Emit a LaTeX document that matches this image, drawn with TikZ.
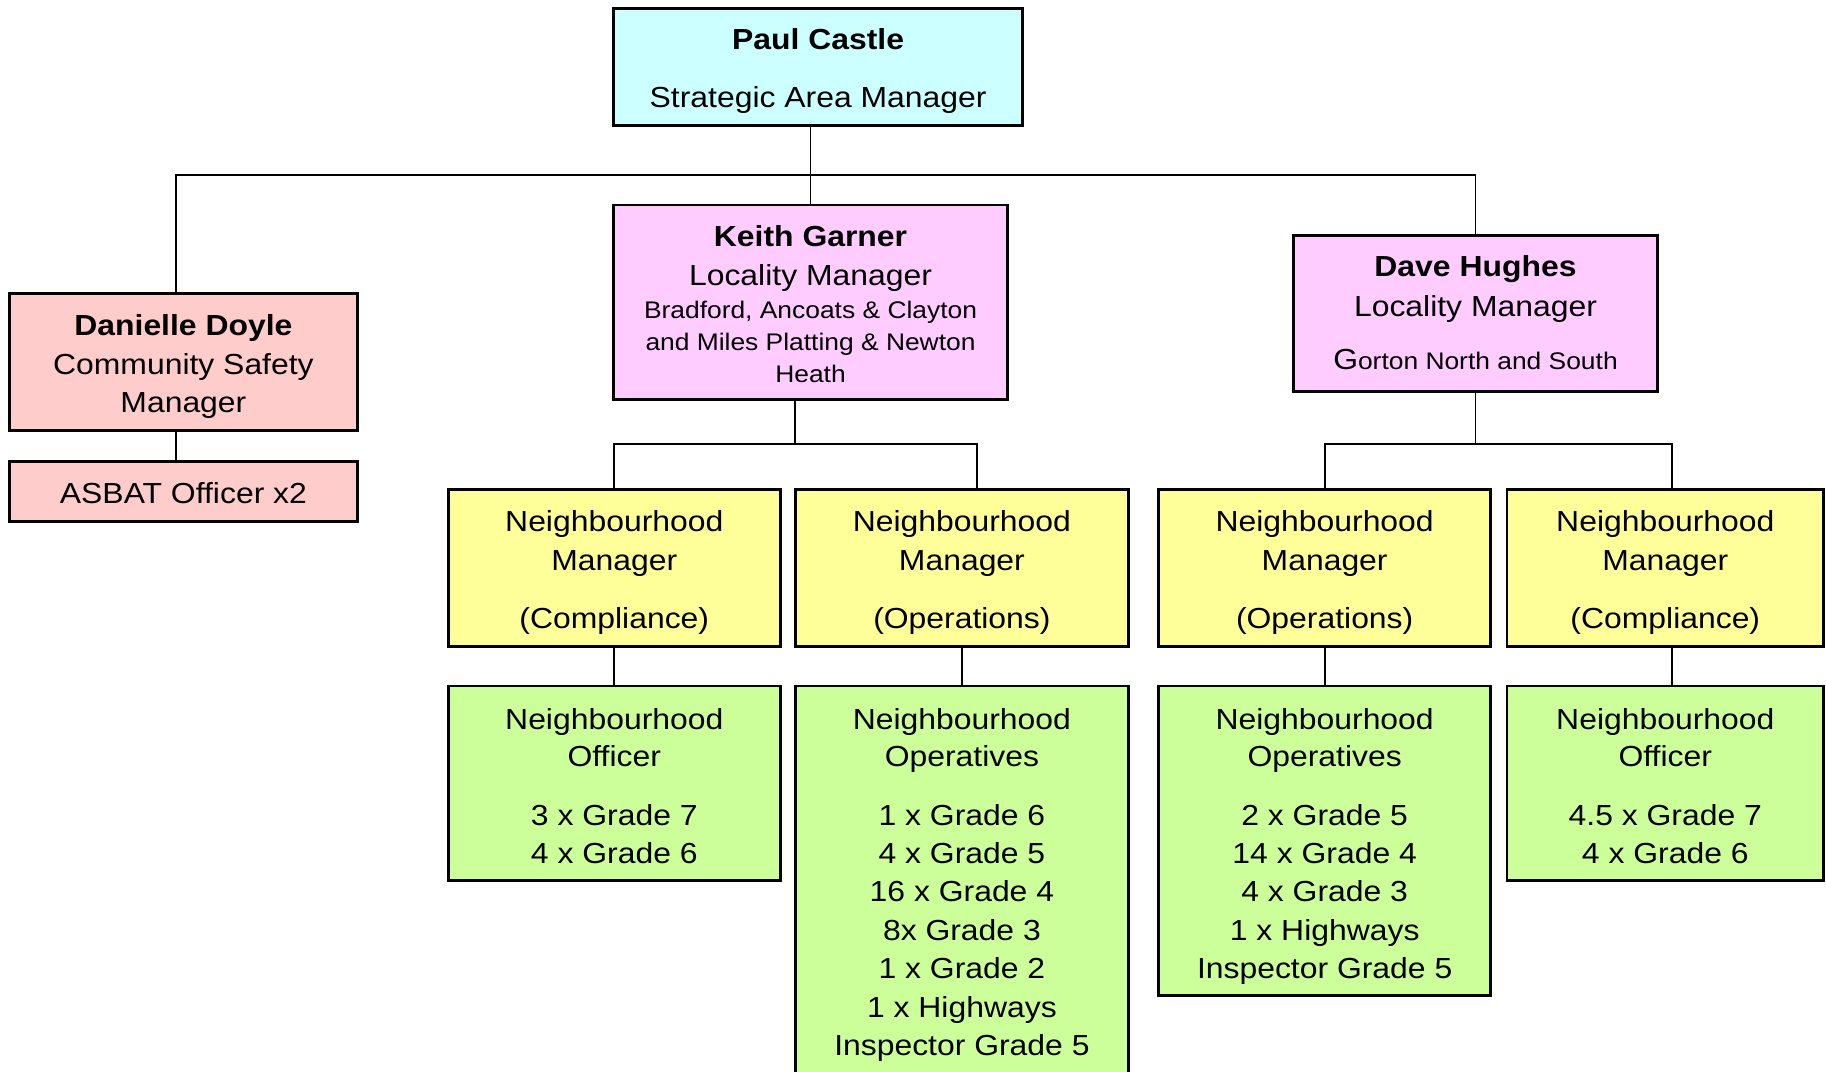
\documentclass[tikz,border=0pt]{standalone}
\usepackage{fontspec}
\setmainfont{Liberation Sans}[FakeStretch=1.1]
\usetikzlibrary{calc}
\definecolor{cyanbox}{HTML}{CCFFFF}
\definecolor{pinkbox}{HTML}{FFCCFF}
\definecolor{rosebox}{HTML}{FFCCCC}
\definecolor{yellowbox}{HTML}{FFFF99}
\definecolor{greenbox}{HTML}{CCFF99}
\newcommand{\bigf}{\fontsize{12.45pt}{16.5pt}\selectfont}
\newcommand{\smallf}{\fontsize{10.3pt}{13.75pt}\selectfont}
\newcommand{\orgbox}[6]{%
  \node[boxst, fill=#6, minimum width={(#4-#2)*0.5pt}, minimum height={(#5-#3)*0.5pt}]
    (#1) at ({(#2+#4)/2},{(#3+#5)/2}) {};}
\newcommand{\txtblock}[2]{\parbox[t]{180pt}{\centering #1 #2}}
\begin{document}
\begin{tikzpicture}[x=0.5pt,y=-0.5pt,
  boxst/.style={draw=black, line width=1.2pt, inner sep=0pt, outer sep=0pt},
  conn/.style={draw=black, line width=0.8pt},
  txt/.style={anchor=base, inner sep=0pt, outer sep=0pt}]
\fill[white] (0,0) rectangle (1568,920);
\useasboundingbox (0,0) rectangle (1568,920);

% boxes
\orgbox{pc}{527}{7}{878}{108}{cyanbox}
\orgbox{kg}{527}{176}{865}{343}{pinkbox}
\orgbox{dh}{1111}{202}{1423}{336}{pinkbox}
\orgbox{dd}{8}{252}{307}{370}{rosebox}
\orgbox{as}{8}{396}{307}{448}{rosebox}
\orgbox{nma}{385}{420}{670}{555}{yellowbox}
\orgbox{nmb}{683}{420}{969}{555}{yellowbox}
\orgbox{nmc}{995}{420}{1280}{555}{yellowbox}
\orgbox{nmd}{1294}{420}{1566}{555}{yellowbox}
\orgbox{ga}{385}{589}{670}{756}{greenbox}
\orgbox{gb}{683}{589}{969}{945}{greenbox}
\orgbox{gc}{995}{589}{1280}{855}{greenbox}
\orgbox{gd}{1294}{589}{1566}{756}{greenbox}

% connectors
\coordinate (bus) at (0,150);
\coordinate (kbus) at (0,381);
\coordinate (dbus) at (0,381);
\coordinate (ddtop) at ($(dd.north)+(-6.5,0)$);
\coordinate (ddbot) at ($(dd.south)+(-6.5,0)$);
\coordinate (astop) at ($(as.north)+(-6.5,0)$);
\coordinate (kd) at ($(kg.south)+(-13,0)$);
\coordinate (nbtop) at ($(nmb.north)+(13,0)$);
\coordinate (ndtop) at ($(nmd.north)+(6,0)$);
\coordinate (ndbot) at ($(nmd.south)+(6,0)$);
\coordinate (gdtop) at ($(gd.north)+(6,0)$);

\draw[conn] (kg.north |- pc.south) -- (kg.north);
\draw[conn] (ddtop) |- (bus -| dh.north) -- (dh.north);
\draw[conn] (ddbot) -- (astop);
\draw[conn] (kd) -- (kd |- kbus);
\draw[conn] (nma.north) |- (kbus -| nbtop) -- (nbtop);
\draw[conn] (dh.south) -- (dh.south |- dbus);
\draw[conn] (nmc.north) |- (dbus -| ndtop) -- (ndtop);
\draw[conn] (nma.south) -- (ga.north);
\draw[conn] (nmb.south) -- (gb.north);
\draw[conn] (nmc.south) -- (gc.north);
\draw[conn] (ndbot) -- (gdtop);

% texts
\node[txt] (pc-t) at (702.5,42.5) {\txtblock{\bigf}{{\bfseries Paul Castle}\\[8.5pt]Strategic Area Manager}};
\node[txt] (kg-t) at (696,211.5) {\txtblock{\bigf}{{\bfseries Keith Garner}\\[0.5pt]Locality Manager}};
\node[txt] (kg-s) at (696,273.5) {\txtblock{\smallf}{Bradford, Ancoats \& Clayton\\and Miles Platting \& Newton\\Heath}};
\node[txt] (dh-t) at (1267,237.5) {\txtblock{\bigf}{{\bfseries Dave Hughes}\\[0.5pt]Locality Manager}};
\node[txt] (dh-s) at (1267,317) {\txtblock{\smallf}{{\bigf G}orton North and South}};
\node[txt] (dd-t) at (157.5,288.5) {\txtblock{\bigf}{{\bfseries Danielle Doyle}\\Community Safety\\Manager}};
\node[txt] (as-t) at (157.5,432.5) {\txtblock{\bigf}{ASBAT Officer x2}};

\node[txt] (nma-t) at (527.5,456.5) {\txtblock{\bigf}{Neighbourhood\\Manager\\[8.5pt](Compliance)}};
\node[txt] (nmb-t) at (826,456.5) {\txtblock{\bigf}{Neighbourhood\\Manager\\[8.5pt](Operations)}};
\node[txt] (nmc-t) at (1137.5,456.5) {\txtblock{\bigf}{Neighbourhood\\Manager\\[8.5pt](Operations)}};
\node[txt] (nmd-t) at (1430,456.5) {\txtblock{\bigf}{Neighbourhood\\Manager\\[8.5pt](Compliance)}};

\node[txt] (ga-t) at (527.5,626.5) {\txtblock{\bigf}{Neighbourhood\\[-0.5pt]Officer\\[8.5pt]3 x Grade 7\\4 x Grade 6}};
\node[txt] (gb-t) at (826,626.5) {\txtblock{\bigf}{Neighbourhood\\[-0.5pt]Operatives\\[8.5pt]1 x Grade 6\\4 x Grade 5\\16 x Grade 4\\8x Grade 3\\1 x Grade 2\\1 x Highways\\Inspector Grade 5}};
\node[txt] (gc-t) at (1137.5,626.5) {\txtblock{\bigf}{Neighbourhood\\[-0.5pt]Operatives\\[8.5pt]2 x Grade 5\\14 x Grade 4\\4 x Grade 3\\1 x Highways\\Inspector Grade 5}};
\node[txt] (gd-t) at (1430,626.5) {\txtblock{\bigf}{Neighbourhood\\[-0.5pt]Officer\\[8.5pt]4.5 x Grade 7\\4 x Grade 6}};
\end{tikzpicture}
\end{document}
